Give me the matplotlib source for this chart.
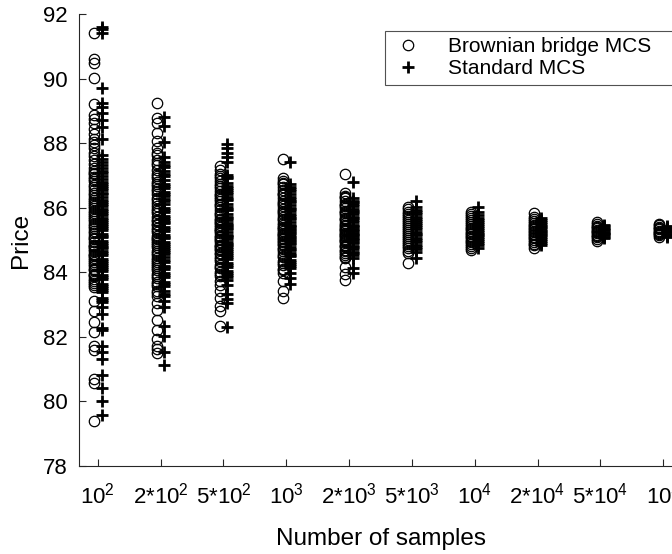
import matplotlib
matplotlib.use("Agg")
import matplotlib.pyplot as plt

plt.rcParams['font.family'] = ['Liberation Sans', 'DejaVu Sans']
plt.rcParams['mathtext.fontset'] = 'custom'
plt.rcParams['mathtext.rm'] = 'Liberation Sans'
plt.rcParams['mathtext.it'] = 'Liberation Sans'
plt.rcParams['mathtext.default'] = 'regular'

tick_labels = [r'10$^{2}$', r'2*10$^{2}$', r'5*10$^{2}$', r'10$^{3}$', r'2*10$^{3}$',
               r'5*10$^{3}$', r'10$^{4}$', r'2*10$^{4}$', r'5*10$^{4}$', r'10$^{5}$']
y_ticks = [78, 80, 82, 84, 86, 88, 90, 92]

bb_1 = [91.42, 90.62, 90.48, 90.03, 89.22, 88.87, 88.74, 88.61, 88.43, 88.12, 88.05, 87.93, 87.61, 87.48,
        87.22, 87.15, 87.03, 86.96, 86.82, 86.71, 86.55, 86.47, 86.31, 86.24, 86.12, 85.98, 85.91, 85.77,
        85.64, 85.58, 85.43, 85.36, 85.21, 85.13, 85.02, 84.94, 84.86, 84.77, 84.65, 84.58, 84.49, 84.37,
        84.26, 84.18, 84.07, 83.96, 83.88, 83.79, 83.67, 83.55, 83.12, 82.81, 82.46, 82.15, 81.73, 81.58,
        80.71, 80.56, 79.38,
        88.28, 87.84, 87.35, 86.88, 86.63, 86.38, 86.05, 85.83, 85.49, 85.27, 85.07, 84.81, 84.53, 84.32,
        84.11, 83.93, 83.72, 83.61, 86.18, 85.71, 84.71, 84.43, 87.71, 87.09]
std_1 = [91.61, 91.52, 91.41, 89.71, 89.23, 89.12, 88.93, 88.72, 88.51, 88.13, 87.62, 87.51, 87.33, 87.24,
         87.08, 86.97, 86.88, 86.73, 86.62, 86.54, 86.41, 86.33, 86.18, 86.06, 85.97, 85.84, 85.76, 85.62,
         85.51, 85.44, 85.32, 85.19, 85.08, 84.97, 84.85, 84.74, 84.66, 84.53, 84.41, 84.28, 84.17, 84.03,
         83.91, 83.78, 83.64, 83.52, 83.38, 83.21, 83.07, 82.92, 82.71, 82.28, 82.21, 81.72, 81.53, 81.32,
         80.81, 80.42, 80.01, 79.58,
         87.41, 87.15, 86.79, 86.47, 86.24, 85.91, 85.69, 85.38, 85.13, 84.91, 84.61, 84.35, 84.09, 83.84,
         83.58, 83.44, 83.13, 86.12, 85.57, 84.79, 84.22, 86.68]
bb_2 = [89.24, 88.78, 88.63, 88.31, 88.06, 87.85, 87.62, 87.48, 87.31, 87.17, 87.04, 86.92, 86.81, 86.67,
        86.52, 86.43, 86.29, 86.16, 86.04, 85.95, 85.83, 85.71, 85.58, 85.46, 85.37, 85.25, 85.12, 85.03,
        84.91, 84.78, 84.66, 84.54, 84.43, 84.31, 84.18, 84.06, 83.94, 83.82, 83.71, 83.57, 83.43, 83.28,
        83.06, 82.83, 82.52, 82.21, 81.93, 81.72, 81.61, 81.51,
        87.71, 87.38, 86.97, 86.58, 86.23, 85.89, 85.63, 85.31, 85.07, 84.84, 84.59, 84.37, 84.12, 83.89,
        83.63, 83.35, 86.73, 85.51, 84.97, 84.25]
std_2 = [88.82, 88.53, 88.04, 87.57, 87.42, 87.26, 87.13, 86.98, 86.86, 86.74, 86.61, 86.49, 86.37, 86.22,
         86.11, 85.99, 85.87, 85.74, 85.63, 85.52, 85.41, 85.29, 85.16, 85.05, 84.93, 84.81, 84.69, 84.57,
         84.46, 84.33, 84.21, 84.09, 83.97, 83.84, 83.71, 83.58, 83.42, 83.26, 83.11, 82.94, 82.33, 82.02,
         81.52, 81.12,
         87.33, 87.04, 86.68, 86.28, 85.93, 85.68, 85.35, 85.09, 84.87, 84.63, 84.39, 84.15, 83.91, 83.64,
         83.33, 86.43, 85.57, 84.75]
bb_3 = [87.28, 87.16, 87.05, 86.93, 86.84, 86.72, 86.61, 86.53, 86.42, 86.34, 86.21, 86.13, 86.02, 85.94,
        85.83, 85.75, 85.66, 85.57, 85.48, 85.39, 85.31, 85.22, 85.13, 85.04, 84.95, 84.86, 84.77, 84.68,
        84.57, 84.46, 84.35, 84.23, 84.12, 84.01, 83.88, 83.74, 83.61, 83.43, 83.21, 82.97, 82.81, 82.33,
        86.98, 86.66, 86.38, 86.07, 85.79, 85.52, 85.27, 85.08, 84.82, 84.61, 84.41, 84.17, 83.94, 85.61,
        85.35, 84.99, 84.72, 86.27]
std_3 = [87.97, 87.84, 87.71, 87.58, 87.43, 87.02, 86.91, 86.78, 86.67, 86.55, 86.44, 86.32, 86.23, 86.11,
         86.01, 85.92, 85.81, 85.72, 85.61, 85.53, 85.42, 85.33, 85.24, 85.12, 85.03, 84.94, 84.83, 84.72,
         84.61, 84.52, 84.41, 84.29, 84.16, 84.03, 83.91, 83.76, 83.62, 83.34, 83.18, 83.06, 82.31,
         86.96, 86.61, 86.28, 85.97, 85.67, 85.38, 85.17, 84.89, 84.66, 84.46, 84.22, 83.97, 83.84, 85.47,
         85.08, 84.77, 86.49]
bb_4 = [87.52, 86.91, 86.82, 86.73, 86.64, 86.55, 86.47, 86.38, 86.29, 86.21, 86.12, 86.04, 85.96, 85.87,
        85.79, 85.71, 85.62, 85.54, 85.45, 85.37, 85.28, 85.19, 85.11, 85.02, 84.93, 84.84, 84.75, 84.66,
        84.56, 84.46, 84.35, 84.23, 84.11, 83.98, 83.72, 83.43, 83.21,
        86.77, 86.42, 86.16, 85.91, 85.66, 85.41, 85.23, 85.06, 84.88, 84.71, 84.51, 84.29, 84.06, 85.33,
        85.15, 84.97]
std_4 = [87.41, 86.72, 86.63, 86.52, 86.43, 86.34, 86.26, 86.17, 86.08, 85.99, 85.91, 85.82, 85.73, 85.65,
         85.56, 85.48, 85.39, 85.31, 85.22, 85.14, 85.05, 84.96, 84.87, 84.78, 84.69, 84.59, 84.49, 84.38,
         84.27, 84.13, 83.98, 83.83, 83.64,
         86.57, 86.21, 85.95, 85.69, 85.43, 85.26, 85.09, 84.91, 84.73, 84.54, 84.33, 84.19, 85.35, 85.01]
bb_5 = [87.05, 86.45, 86.37, 86.29, 86.21, 86.13, 86.06, 85.98, 85.91, 85.83, 85.76, 85.68, 85.61, 85.53,
        85.46, 85.38, 85.31, 85.23, 85.16, 85.08, 85.01, 84.93, 84.85, 84.77, 84.69, 84.61, 84.52, 84.44,
        84.17, 83.95, 83.76,
        86.33, 86.09, 85.87, 85.64, 85.42, 85.27, 85.12, 84.97, 84.81, 84.65, 84.48, 85.35, 85.19, 85.04]
std_5 = [86.81, 86.31, 86.22, 86.13, 86.04, 85.96, 85.87, 85.79, 85.71, 85.63, 85.55, 85.47, 85.39, 85.31,
         85.23, 85.15, 85.07, 84.99, 84.91, 84.82, 84.73, 84.64, 84.55, 84.45, 84.12, 83.97,
         86.17, 85.91, 85.67, 85.43, 85.27, 85.11, 84.95, 84.78, 84.59, 85.35, 85.19, 85.03]
bb_6 = [86.02, 85.95, 85.88, 85.81, 85.74, 85.67, 85.61, 85.55, 85.49, 85.43, 85.37, 85.31, 85.25, 85.19,
        85.13, 85.07, 85.01, 84.95, 84.88, 84.81, 84.74, 84.67, 84.60, 84.28]
std_6 = [86.21, 86.03, 85.94, 85.86, 85.79, 85.72, 85.65, 85.58, 85.52, 85.45, 85.39, 85.33, 85.26, 85.20,
         85.14, 85.07, 85.00, 84.93, 84.86, 84.79, 84.71, 84.62, 84.43]
bb_7 = [85.88, 85.81, 85.74, 85.67, 85.61, 85.55, 85.49, 85.43, 85.38, 85.33, 85.28, 85.23, 85.18, 85.13,
        85.08, 85.03, 84.98, 84.93, 84.87, 84.81, 84.75, 84.69]
std_7 = [86.01, 85.86, 85.77, 85.69, 85.62, 85.55, 85.49, 85.43, 85.37, 85.31, 85.26, 85.20, 85.14, 85.08,
         85.02, 84.96, 84.90, 84.83, 84.76]
bb_8 = [85.83, 85.71, 85.64, 85.58, 85.52, 85.47, 85.42, 85.37, 85.33, 85.28, 85.24, 85.19, 85.15, 85.10,
        85.05, 85.00, 84.95, 84.89, 84.83, 84.76]
std_8 = [85.68, 85.61, 85.55, 85.49, 85.44, 85.39, 85.34, 85.29, 85.24, 85.19, 85.14, 85.09, 85.04, 84.98,
         84.92, 84.86]
bb_9 = [85.55, 85.49, 85.44, 85.40, 85.36, 85.32, 85.28, 85.25, 85.21, 85.17, 85.13, 85.09, 85.04, 84.98]
std_9 = [85.48, 85.42, 85.38, 85.34, 85.30, 85.26, 85.22, 85.18, 85.14, 85.10, 85.05]
bb_10 = [85.50, 85.45, 85.41, 85.37, 85.33, 85.29, 85.26, 85.22, 85.18, 85.14, 85.10]
std_10 = [85.44, 85.40, 85.36, 85.32, 85.28, 85.24, 85.20, 85.16, 85.12, 85.08]

bb_groups = [bb_1, bb_2, bb_3, bb_4, bb_5, bb_6, bb_7, bb_8, bb_9, bb_10]
std_groups = [std_1, std_2, std_3, std_4, std_5, std_6, std_7, std_8, std_9, std_10]

fig = plt.figure(figsize=(6.72, 5.54), dpi=100)
ax = fig.add_axes([79/672, 88/554, (682-79)/672, (466-14)/554])

axis_col = '#262626'
for i, (bb, sd) in enumerate(zip(bb_groups, std_groups)):
    pos = i + 1
    ax.plot([pos - 0.06] * len(bb), bb, linestyle='none', marker='o', markersize=7.5,
            markerfacecolor='none', markeredgecolor='black', markeredgewidth=0.9,
            label='Brownian bridge MCS' if i == 0 else None, clip_on=False)
    ax.plot([pos + 0.06] * len(sd), sd, linestyle='none', marker='+', markersize=8.5,
            color='black', markeredgewidth=2.0,
            label='Standard MCS' if i == 0 else None, clip_on=False)

ax.set_xlim(0.7, 10.3)
ax.set_ylim(78, 92)
ax.set_xticks(range(1, 11))
ax.set_xticklabels(tick_labels)
ax.set_yticks(y_ticks)
for s in ['top', 'right']:
    ax.spines[s].set_visible(False)
for s in ['left', 'bottom']:
    ax.spines[s].set_color(axis_col)
    ax.spines[s].set_linewidth(0.8)
ax.tick_params(direction='in', length=5, width=0.8, color=axis_col, labelsize=16,
               labelcolor='black')
ax.tick_params(axis='x', pad=12)
ax.tick_params(axis='y', pad=8)
ax.set_xlabel('Number of samples', fontsize=17.5, labelpad=14)
ax.set_ylabel('Price', fontsize=17.5, labelpad=8)

leg = ax.legend(loc='upper left', bbox_to_anchor=(385/672, 1 - 31/554 - 0.01, (700-385)/672, 0.01),
                bbox_transform=fig.transFigure, mode='expand', fontsize=15, frameon=True,
                fancybox=False, edgecolor=axis_col, borderaxespad=0,
                handlelength=1.6, handletextpad=1.1, borderpad=0.3, labelspacing=0.15)
leg.get_frame().set_linewidth(0.8)

fig.savefig('out.png', dpi=100)
